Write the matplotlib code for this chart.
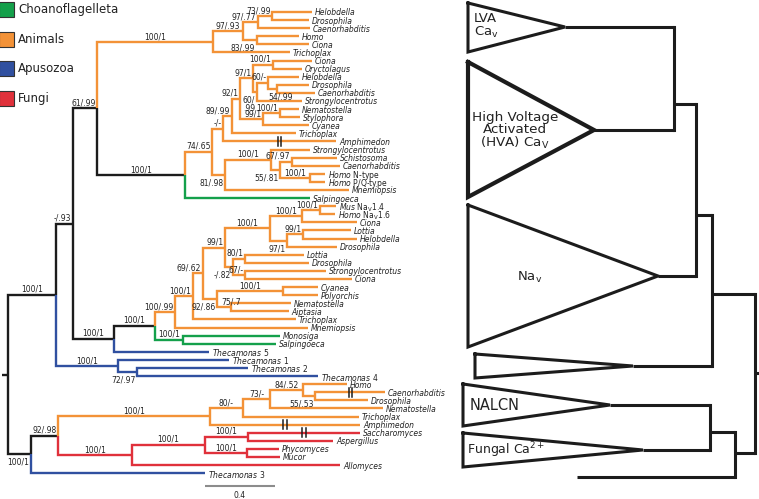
import matplotlib
matplotlib.use('Agg')
import matplotlib.pyplot as plt

# colours of the taxonomic groups
groups = ['Choanoflagelleta', 'Animals', 'Apusozoa', 'Fungi']
group_colors = ['#14a04b', '#f39237', '#3050a0', '#e0313b']
BLACK = '#1c1c1c'

choano = ['Salpingoeca', 'Monosiga']
apuso = ['Thecamonas 1', 'Thecamonas 2', 'Thecamonas 3', 'Thecamonas 4', 'Thecamonas 5']
fungi = ['Saccharomyces', 'Aspergillus', 'Phycomyces', 'Mucor', 'Allomyces']

# tree in newick pieces. support prefixes: "_" printed below the branch,
# ">" starts at the parent node, "=" centred on the node; "|" = line break;
# leaf suffix "~" = truncated branch
lva = ("((((Helobdella:0.229,Drosophila:0.211)73/.99:0.080,Caenorhabditis:0.297)97/.77:0.086,"
       "(Homo:0.240,Ciona:0.297)_83/.99:0.080)97/.93:0.171,Trichoplax:0.440)100/1:0.663")
hva_up = ("(((((Ciona:0.223,Oryctolagus:0.166)100/1:0.114,((Helobdella:0.177,(Drosophila:0.183,"
          "Caenorhabditis:0.217)_>54/.99:0.051)60/-:0.063,Strongylocentrotus:0.257)_60/|.99:0.023)97/1:0.074,"
          "((Nematostella:0.109,Stylophora:0.114)100/1:0.097,Cyanea:0.263)99/1:0.131)92/1:0.046,"
          "Trichoplax:0.366)89/.99:0.051,Amphimedon~:0.646)-/-:0.063")
hva_low = ("((Strongylocentrotus:0.223,((Schistosoma:0.257,Caenorhabditis:0.274)67/.97:0.069,"
           "(Homo N-type:0.086,Homo P/Q-type:0.086)100/1:0.171)_55/.81:0.051)100/1:0.263,"
           "Mnemiopsis:0.709)_81/.98:0.074")
hva = f"(({hva_up},{hva_low})74/.65:0.154,Salpingoeca:0.714)100/1:0.503"
cav = f"({lva},{hva})61/.99:0.137"

na_a = "((Mus Nav1.4:0.091,Homo Nav1.6:0.086)100/1:0.103,Ciona:0.314)100/1:0.183"
na_b = "((Lottia:0.274,Helobdella:0.309)99/1:0.091,Drosophila:0.286)_97/1:0.097"
na_c = ("((Lottia:0.337,Drosophila:0.366)80/1:0.069,(Strongylocentrotus:0.463,Ciona:0.611)67/-:0.069)"
        "_-/.82:0.046")
na_d = ("((Cyanea:0.200,Polyorchis:0.200)100/1:0.377,(Nematostella:0.343,Aiptasia:0.331)=75/.7:0.080)"
        "_92/.86:0.080")
na = (f"((((({na_a},{na_b})100/1:0.257,{na_c})99/1:0.126,{na_d})69/.62:0.057,Trichoplax:0.589)100/1:0.103,"
      "Mnemiopsis:0.760)100/.99:0.114")
nav = f"(({na},(Monosiga:0.554,Salpingoeca:0.531)100/1:0.160)100/1:0.234,Thecamonas 5:0.543)100/1:0.234"
thec = "(Thecamonas 1:0.634,(Thecamonas 2:0.634,Thecamonas 4:1.034)_72/.97:0.109)100/1:0.354"

nalcn = ("((((Homo:0.251,(Caenorhabditis~:0.400,Drosophila:0.303)_55/.53:0.069)84/.52:0.189,"
         "Nematostella:0.646)73/-:0.154,Trichoplax:0.663)80/-:0.189,Amphimedon~:0.857)100/1:0.869")
fung = ("(((Saccharomyces~:0.640,Aspergillus:0.486)100/1:0.246,(Phycomyces:0.183,Mucor:0.189)100/1:0.240)"
        "100/1:0.417,Allomyces:1.189)100/1:0.423")

tree = (f"((({cav},{nav})-/.93:0.097,{thec})100/1:0.274,"
        f"(({nalcn},{fung})92/.98:0.154,Thecamonas 3:0.994)_100/1:0.131):0.034;")

display = {
    'Mus Nav1.4': r'$\mathit{Mus}$ Na$_\mathregular{V}$1.4',
    'Homo Nav1.6': r'$\mathit{Homo}$ Na$_\mathregular{V}$1.6',
    'Homo N-type': r'$\mathit{Homo}$ N-type',
    'Homo P/Q-type': r'$\mathit{Homo}$ P/Q-type',
}
for t in apuso:
    display[t] = r'$\mathit{Thecamonas}$ ' + t.split()[1]

# schematic on the right
tri_labels = ['LVA\nCa$_\\mathregular{v}$', 'High Voltage\nActivated\n(HVA) Ca$_\\mathregular{V}$',
              'Na$_\\mathregular{v}$', '', 'NALCN', 'Fungal Ca$^{2+}$']
tri_base = [468, 468, 468, 475, 463, 463]
tri_top = [3, 62, 205, 354, 384, 433]
tri_bot = [52, 197, 347, 378, 426, 467]
tri_tip = [565, 594, 658, 633, 610, 643]
tri_mid = [27, 130, 276, 366, 405, 450]
tri_parent = [0, 0, 1, 2, 3, 3]
sk_x = [674, 696, 712, 710, 735, 755]
sk_y0 = [27, 104, 215, 405, 432, 294]
sk_y1 = [130, 276, 366, 450, 477, 453]
sk_out = [104, 215, 294, 432, 453, 373]
sk_parent = [1, 2, 5, 4, 5, None]
out_start, out_y = 577, 477


def parse(s):
    pos = 0

    def node():
        nonlocal pos
        n = {'children': [], 'name': '', 'len': 0.0}
        if s[pos] == '(':
            pos += 1
            n['children'].append(node())
            while s[pos] == ',':
                pos += 1
                n['children'].append(node())
            pos += 1
        st = pos
        while s[pos] not in ':,();':
            pos += 1
        n['name'] = s[st:pos]
        if s[pos] == ':':
            pos += 1
            st = pos
            while s[pos] not in ',();':
                pos += 1
            n['len'] = float(s[st:pos])
        return n
    return node()


root = parse(tree)
leaves = []


def place(n, x):
    n['x'] = x
    if n['children']:
        for c in n['children']:
            place(c, x + c['len'])
        n['y'] = sum(c['y'] for c in n['children']) / len(n['children'])
    else:
        n['y'] = len(leaves)
        leaves.append(n)


def colour(n):
    if not n['children']:
        nm = n['name'].rstrip('~')
        g = 'Choanoflagelleta' if nm in choano else 'Apusozoa' if nm in apuso else \
            'Fungi' if nm in fungi else 'Animals'
        n['c'] = group_colors[groups.index(g)]
    else:
        cs = set(colour(c) for c in n['children'])
        n['c'] = cs.pop() if len(cs) == 1 else BLACK
    return n['c']


place(root, 0.0)
colour(root)

PX = 1 / 175.0   # tree units per pixel
PY = 1 / 8.09    # leaf rows per pixel
FS = 5.5
TXT = '#222222'

fig = plt.figure(figsize=(7.59, 4.99), dpi=100)
ax = fig.add_axes([0, 0, 1, 1])
ax.set_xlim(-8 * PX, 751 * PX)
ax.set_ylim(487 * PY, -12 * PY)
ax.axis('off')


def draw(n):
    for c in n['children']:
        ax.plot([n['x'], n['x'], c['x']], [n['y'], c['y'], c['y']], color=c['c'], lw=1.7,
                solid_capstyle='butt', solid_joinstyle='miter')
        if c['children']:
            lab = c['name']
            flags = ''
            while lab[0] in '_>=':
                flags += lab[0]
                lab = lab[1:]
            lab = lab.replace('|', '\n')
            blen = c['x'] - n['x']
            if '>' in flags:
                tx, ha = n['x'], 'left'
            elif '=' in flags:
                tx, ha = c['x'], 'center'
            elif blen < 26 * PX:
                tx, ha = c['x'] - 1.5 * PX, 'right'
            else:
                tx, ha = (c['x'] + n['x']) / 2, 'center'
            if '_' in flags:
                ax.text(tx, c['y'] + 0.45, lab, ha=ha, va='top', fontsize=FS, color=TXT, linespacing=0.95)
            else:
                ax.text(tx, c['y'] - 0.35, lab, ha=ha, va='baseline', fontsize=FS, color=TXT)
            draw(c)
        else:
            nm = c['name'].rstrip('~')
            if nm in display:
                ax.text(c['x'] + 3 * PX, c['y'], display[nm], fontsize=FS, color=TXT,
                        va='center_baseline', ha='left')
            else:
                ax.text(c['x'] + 3 * PX, c['y'], nm, fontsize=FS, color=TXT, style='italic',
                        va='center_baseline', ha='left')
            if c['name'].endswith('~'):
                mid = (n['x'] + c['x']) / 2
                for dx in (-1.6 * PX, 1.6 * PX):
                    ax.plot([mid + dx, mid + dx], [c['y'] - 0.55, c['y'] + 0.55], color=BLACK, lw=1.1)


ax.plot([-root['len'], 0], [root['y'], root['y']], color=BLACK, lw=1.7, solid_capstyle='butt')
draw(root)

# scale bar
ax.plot([1.126, 1.126 + 0.4], [58.6, 58.6], color='#8c8c8c', lw=1.5, solid_capstyle='butt')
ax.text(1.126 + 0.2, 59.8, '0.4', ha='center', va='center', fontsize=FS, color=TXT)

# overlay in pixel coordinates: legend and schematic
ov = fig.add_axes([0, 0, 1, 1])
ov.set_xlim(0, 759)
ov.set_ylim(499, 0)
ov.axis('off')
ov.patch.set_alpha(0)

for i, (g, col) in enumerate(zip(groups, group_colors)):
    yc = 9.5 + 29.5 * i
    ov.add_patch(plt.Rectangle((-1, yc - 7.5), 15, 15, facecolor=col, edgecolor='#333333', lw=0.8))
    ov.text(18, yc, g, fontsize=8.5, va='center', ha='left', color=TXT)

for i in range(len(tri_labels)):
    lw = 3.0 if i == 1 else 2.2
    ov.plot([tri_base[i], tri_tip[i], tri_base[i], tri_base[i]],
            [tri_top[i], tri_mid[i], tri_bot[i], tri_top[i]], color=BLACK, lw=lw,
            solid_joinstyle='miter')
    p = tri_parent[i]
    ov.plot([tri_tip[i], sk_x[p]], [tri_mid[i], tri_mid[i]], color=BLACK, lw=2.2, solid_capstyle='butt')

ov.plot([out_start, sk_x[4]], [out_y, out_y], color=BLACK, lw=2.2, solid_capstyle='butt')
for j in range(len(sk_x)):
    ov.plot([sk_x[j], sk_x[j]], [sk_y0[j], sk_y1[j]], color=BLACK, lw=2.2, solid_capstyle='projecting')
    p = sk_parent[j]
    x_end = sk_x[p] if p is not None else 759
    ov.plot([sk_x[j], x_end], [sk_out[j], sk_out[j]], color=BLACK, lw=2.2, solid_capstyle='butt')

ov.text(474, 26, tri_labels[0], fontsize=9.5, ha='left', va='center', color=TXT, linespacing=1.0)
ov.text(515, 131, tri_labels[1], fontsize=9.7, ha='center', va='center', color=TXT, linespacing=0.95)
ov.text(517, 277, tri_labels[2], fontsize=9.5, ha='left', va='center', color=TXT)
ov.text(470, 405, tri_labels[4], fontsize=10.5, ha='left', va='center', color=TXT)
ov.text(467, 450, tri_labels[5], fontsize=9, ha='left', va='center', color=TXT)

fig.savefig('out.png', dpi=100)
